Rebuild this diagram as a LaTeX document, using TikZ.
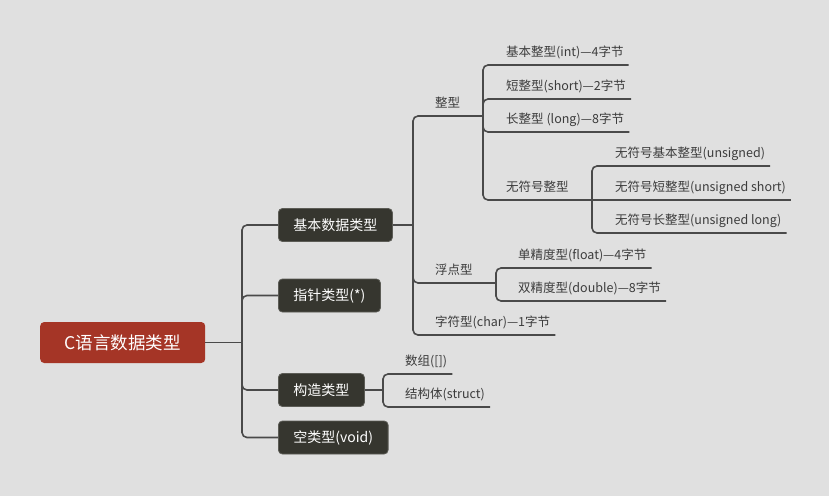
\documentclass[tikz,border=0pt]{standalone}
\usepackage{fontspec}
\newfontfamily\cjk{Noto Sans CJK SC}
\definecolor{bgcol}{HTML}{E0E0E0}
\definecolor{rootcol}{HTML}{A53526}
\definecolor{boxcol}{HTML}{36362F}
\definecolor{boxedge}{HTML}{5C5C56}
\definecolor{linecol}{HTML}{4A4A4A}
\definecolor{leafcol}{HTML}{3C3C3C}
\begin{document}
\begin{tikzpicture}[x=1pt,y=-1pt,
  conn/.style={draw=linecol,line width=1.6pt,rounded corners=5pt},
  rootbox/.style={fill=rootcol,text=white,rounded corners=4pt,anchor=west,
    font=\cjk\fontsize{17.5}{20}\selectfont,minimum height=41pt,minimum width=165pt},
  topicbox/.style={fill=boxcol,draw=boxedge,line width=0.8pt,text=white,rounded corners=4pt,anchor=west,
    font=\cjk\fontsize{14}{17}\selectfont,minimum height=33pt,inner xsep=15pt},
  leaf/.style={anchor=south west,text=leafcol,font=\cjk\fontsize{12.5}{15}\selectfont,
    inner xsep=5pt,inner ysep=0pt,text height=11pt,text depth=8.5pt}]
\fill[bgcol] (0,0) rectangle (829,496);

\node[rootbox] (root) at (40,342.5) {C语言数据类型};
\node[topicbox] (basic) at (278,225) {基本数据类型};
\node[topicbox] (pointer) at (278,295.5) {指针类型(*)};
\node[topicbox] (compound) at (278,390) {构造类型};
\node[topicbox] (void) at (278,437.5) {空类型(void)};

\coordinate (rootj) at (242,342.5);
\draw[conn] (root.east) -- (rootj);
\foreach \t in {basic,pointer,compound,void}
  \draw[conn] (rootj) |- (\t.west);

\coordinate (basicj) at (413,225);
\coordinate (intj) at (483,116);
\coordinate (floatj) at (496,283);
\coordinate (unsj) at (592,200);
\coordinate (compj) at (383,390);

\node[leaf] (integer) at (430,116) {整型};
\node[leaf] (float) at (430,283) {浮点型};
\node[leaf] (char) at (430,335) {字符型(char)—1字节};
\draw[conn] (basic.east) -- (basicj);
\draw[conn] (basicj) |- (intj);
\draw[conn] (basicj) |- (floatj);
\draw[conn] (basicj) |- (char.south east);

\node[leaf] (int) at (501,65) {基本整型(int)—4字节};
\node[leaf] (short) at (501,99) {短整型(short)—2字节};
\node[leaf] (long) at (501,132) {长整型 (long)—8字节};
\node[leaf] (unsigned) at (501,200) {无符号整型};
\foreach \t in {int,short,long}
  \draw[conn] (intj) |- (\t.south east);
\draw[conn] (intj) |- (unsj);

\node[leaf] (uint) at (610,166) {无符号基本整型(unsigned)};
\node[leaf] (ushort) at (610,200) {无符号短整型(unsigned short)};
\node[leaf] (ulong) at (610,233) {无符号长整型(unsigned long)};
\draw[conn] (unsj) |- (uint.south east);
\draw[conn] (unsj) -- (ushort.south east);
\draw[conn] (unsj) |- (ulong.south east);

\node[leaf] (single) at (513,268) {单精度型(float)—4字节};
\node[leaf] (double) at (513,301) {双精度型(double)—8字节};
\draw[conn] (floatj) |- (single.south east);
\draw[conn] (floatj) |- (double.south east);

\node[leaf] (array) at (400,374) {数组([])};
\node[leaf] (structure) at (400,407) {结构体(struct)};
\draw[conn] (compound.east) -- (compj);
\draw[conn] (compj) |- (array.south east);
\draw[conn] (compj) |- (structure.south east);
\end{tikzpicture}
\end{document}
